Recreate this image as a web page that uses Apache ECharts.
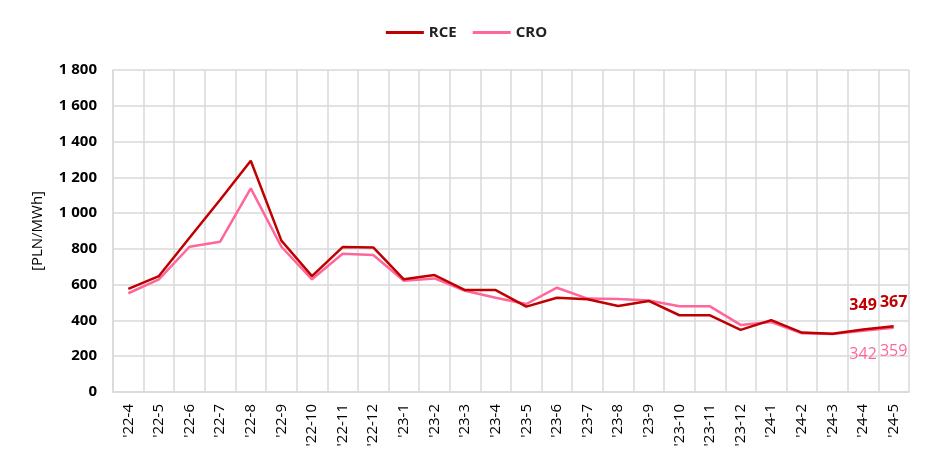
<!DOCTYPE html>
<html>
<head>
<meta charset="utf-8">
<script src="https://cdn.jsdelivr.net/npm/echarts@6/dist/echarts.min.js"></script>
<style>
  html, body { margin: 0; padding: 0; background: #fff; }
  #chart { width: 933px; height: 466px; }
</style>
</head>
<body>
<div id="chart"></div>
<script>
const months = [
  "'22-4", "'22-5", "'22-6", "'22-7", "'22-8", "'22-9", "'22-10", "'22-11", "'22-12",
  "'23-1", "'23-2", "'23-3", "'23-4", "'23-5", "'23-6", "'23-7", "'23-8", "'23-9",
  "'23-10", "'23-11", "'23-12", "'24-1", "'24-2", "'24-3", "'24-4", "'24-5"
];
const rce = [576, 648, 862, 1075, 1293, 846, 648, 810, 808, 630, 654, 570, 570, 477, 527, 518, 481, 509, 429, 429, 347, 402, 332, 326, 349, 367];
const cro = [552, 630, 812, 840, 1138, 812, 630, 773, 766, 622, 635, 566, 527, 492, 583, 522, 520, 511, 479, 479, 375, 391, 328, 324, 342, 359];

const RCE_COLOR = "#c00000";
const CRO_COLOR = "#ff6699";
const FONT = "'Open Sans', sans-serif";

// labels only on the last two months
const labelled = (values, pos, color, weight) =>
  values.map((v, i) =>
    i >= values.length - 2
      ? {
          value: v,
          label: { show: true, position: pos, distance: 16, color: color, fontSize: 16, fontWeight: weight, fontFamily: FONT }
        }
      : v
  );

const spaceThousands = (v) => String(v).replace(/\B(?=(\d{3})+(?!\d))/g, " ");

const lineSeries = (name, color, values, labelPos, weight, z) => ({
  name: name,
  type: "line",
  symbol: "circle",
  symbolSize: 0,
  showSymbol: true,
  showAllSymbol: true,
  color: color,
  lineStyle: { width: 2.5, color: color },
  label: { show: false },
  data: labelled(values, labelPos, color, weight),
  z: z
});

const chart = echarts.init(document.getElementById("chart"));
chart.setOption({
  animation: false,
  textStyle: { fontFamily: FONT },
  legend: {
    top: 20,
    left: "center",
    icon: "rect",
    itemWidth: 38,
    itemHeight: 3,
    itemGap: 16,
    textStyle: { fontSize: 15, fontWeight: "bold", color: "#222", fontFamily: FONT },
    data: ["RCE", "CRO"]
  },
  grid: { left: 113, right: 24, top: 70, bottom: 74, containLabel: false },
  xAxis: {
    type: "category",
    data: months,
    boundaryGap: true,
    axisLine: { show: true, lineStyle: { color: "#d9d9d9", width: 1.5 } },
    axisTick: { show: false },
    splitLine: { show: true, lineStyle: { color: "#d9d9d9", width: 1.5 } },
    axisLabel: {
      rotate: 90,
      interval: 0,
      margin: 12,
      fontSize: 15,
      color: "#000",
      fontFamily: FONT
    }
  },
  yAxis: {
    type: "value",
    min: 0,
    max: 1800,
    interval: 200,
    name: "[PLN/MWh]",
    nameLocation: "middle",
    nameRotate: 90,
    nameGap: 68,
    nameTextStyle: { fontSize: 15, color: "#000", fontFamily: FONT },
    axisLine: { show: true, lineStyle: { color: "#d9d9d9", width: 1.5 } },
    axisTick: { show: false },
    splitLine: { show: true, lineStyle: { color: "#d9d9d9", width: 1.5 } },
    axisLabel: {
      margin: 16,
      fontSize: 15,
      fontWeight: "bold",
      color: "#000",
      fontFamily: FONT,
      formatter: spaceThousands
    }
  },
  series: [
    lineSeries("RCE", RCE_COLOR, rce, "top", "bold", 3),
    lineSeries("CRO", CRO_COLOR, cro, "bottom", "normal", 2)
  ]
});
</script>
</body>
</html>
